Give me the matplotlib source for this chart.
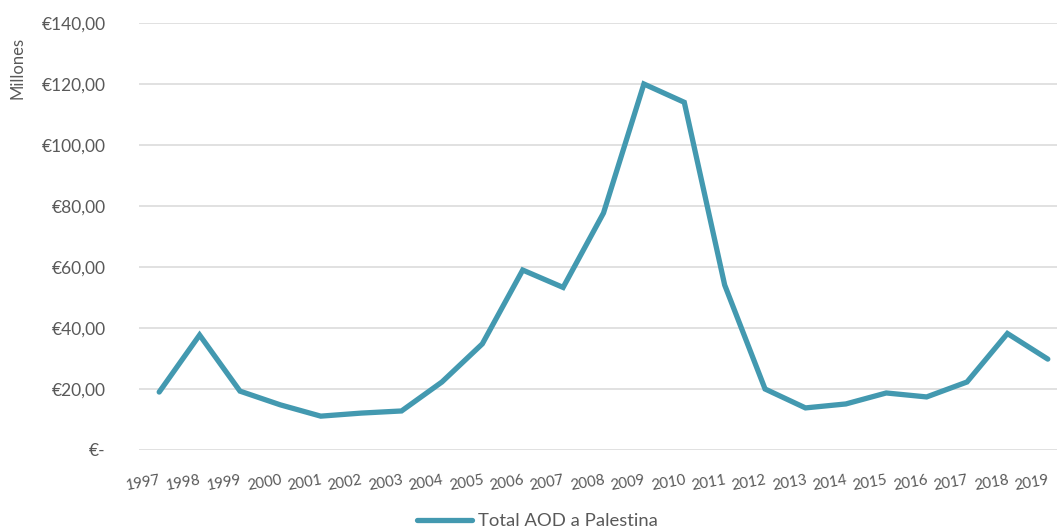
import matplotlib
matplotlib.use("Agg")
import matplotlib.pyplot as plt
from matplotlib.ticker import FuncFormatter, MultipleLocator

years = ["1997", "1998", "1999", "2000", "2001", "2002", "2003", "2004", "2005", "2006",
         "2007", "2008", "2009", "2010", "2011", "2012", "2013", "2014", "2015", "2016",
         "2017", "2018", "2019"]
aod_millions = [19.0, 37.7, 19.3, 14.8, 11.1, 12.1, 12.8, 22.3, 34.8, 59.0,
                53.3, 77.7, 120.0, 114.0, 54.1, 20.0, 13.8, 15.1, 18.7, 17.4,
                22.3, 38.2, 29.8]
series_name = "Total AOD a Palestina"

text_color = "#595959"
line_color = "#4399B0"
grid_color = "#D9D9D9"

plt.rcParams["font.family"] = ["Lato", "DejaVu Sans"]

fig = plt.figure(figsize=(10.57, 5.31), dpi=100)
ax = fig.add_axes([139 / 1057, 81 / 531, 929 / 1057, 427 / 531])

x = list(range(len(years)))
ax.plot(x, aod_millions, color=line_color, linewidth=3.8, solid_joinstyle="miter",
        solid_capstyle="round", label=series_name, zorder=3, clip_on=False)

ax.set_xlim(-0.5, len(years) - 0.5)
ax.set_ylim(0, 140)
ax.yaxis.set_major_locator(MultipleLocator(20))


def euro(v, pos):
    if abs(v) < 1e-9:
        return "€-"
    return "€" + f"{v:.2f}".replace(".", ",")


ax.yaxis.set_major_formatter(FuncFormatter(euro))
ax.set_xticks(x)
ax.set_xticklabels(years, rotation=10, ha="right", va="top", rotation_mode="anchor")

ax.grid(axis="y", color=grid_color, linewidth=1.1)
ax.set_axisbelow(True)
for s in ax.spines.values():
    s.set_visible(False)
ax.tick_params(axis="both", length=0, colors=text_color)
ax.tick_params(axis="y", labelsize=12.5, pad=24)
ax.tick_params(axis="x", labelsize=10.8, pad=16.5)

fig.text(18 / 1057, 1 - 68 / 531, "Millones", rotation=90, ha="center", va="center",
         fontsize=12, color=text_color)

leg = fig.legend(loc="center", bbox_to_anchor=(537 / 1057, 1 - 521 / 531), frameon=False,
                 fontsize=13.3, handlelength=3.0, handletextpad=0.3)
for t in leg.get_texts():
    t.set_color(text_color)

fig.savefig("out.png", dpi=100)
